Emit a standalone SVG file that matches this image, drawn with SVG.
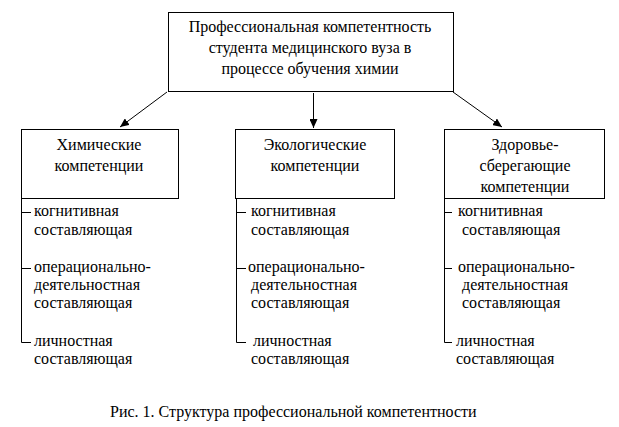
<svg xmlns="http://www.w3.org/2000/svg" width="619" height="427" viewBox="0 0 619 427">
<defs>
<marker id="ah" markerWidth="9" markerHeight="8" refX="9" refY="4" orient="auto" markerUnits="userSpaceOnUse">
<path d="M0,0 L9,4 L0,8 z" fill="#000"/>
</marker>
<style>
text{font-family:"Liberation Serif","DejaVu Serif","Noto Serif",serif;font-size:16px;fill:#000}
.c{text-anchor:middle}
.box{fill:#fff;stroke:#000;stroke-width:1}
.ln{stroke:#000;stroke-width:1;fill:none}
</style>
</defs>
<rect width="619" height="427" fill="#fff"/>
<g id="top">
<rect class="box" x="168.5" y="12.5" width="285" height="79"/>
<text class="c" x="310" y="32">Профессиональная компетентность</text>
<text class="c" x="310" y="53">студента медицинского вуза в</text>
<text class="c" x="310" y="74">процессе обучения химии</text>
</g>
<g id="chem">
<rect class="box" x="21.5" y="129.5" width="157" height="69"/>
<text class="c" x="99" y="150">Химические</text>
<text class="c" x="99" y="171">компетенции</text>
</g>
<g id="eco">
<rect class="box" x="235.5" y="129.5" width="159" height="69"/>
<text class="c" x="315" y="150">Экологические</text>
<text class="c" x="315" y="171">компетенции</text>
</g>
<g id="health">
<rect class="box" x="444.5" y="129.5" width="160" height="69"/>
<text class="c" x="525" y="150">Здоровье-</text>
<text class="c" x="525" y="171">сберегающие</text>
<text class="c" x="525" y="192">компетенции</text>
</g>
<g id="connectors">
<line class="ln" x1="167" y1="92" x2="120" y2="127" marker-end="url(#ah)"/>
<line class="ln" x1="313.5" y1="93" x2="313.5" y2="128" marker-end="url(#ah)"/>
<line class="ln" x1="453" y1="92" x2="502" y2="127" marker-end="url(#ah)"/>
<path class="ln" d="M21.5,198 V342.5 H31 M21.5,212.5 H31 M21.5,268.5 H31"/>
<path class="ln" d="M236.5,198 V342.5 H246 M236.5,212.5 H246 M236.5,268.5 H246"/>
<path class="ln" d="M444.5,198 V342.5 H452 M444.5,212.5 H452 M444.5,268.5 H452"/>
</g>
<g id="list1">
<text x="34" y="216">когнитивная</text>
<text x="34" y="235">составляющая</text>
<text x="34" y="272">операционально-</text>
<text x="34" y="290">деятельностная</text>
<text x="34" y="308">составляющая</text>
<text x="34" y="346">личностная</text>
<text x="34" y="364">составляющая</text>
</g>
<g id="list2">
<text x="251" y="216">когнитивная</text>
<text x="251" y="235">составляющая</text>
<text x="248" y="272">операционально-</text>
<text x="251" y="290">деятельностная</text>
<text x="251" y="308">составляющая</text>
<text x="253" y="346">личностная</text>
<text x="251" y="364">составляющая</text>
</g>
<g id="list3">
<text x="458" y="216">когнитивная</text>
<text x="462" y="235">составляющая</text>
<text x="458" y="272">операционально-</text>
<text x="462" y="290">деятельностная</text>
<text x="462" y="308">составляющая</text>
<text x="456" y="346">личностная</text>
<text x="456" y="364">составляющая</text>
</g>
<text id="caption" x="110" y="417">Рис. 1. Структура профессиональной компетентности</text>
</svg>
